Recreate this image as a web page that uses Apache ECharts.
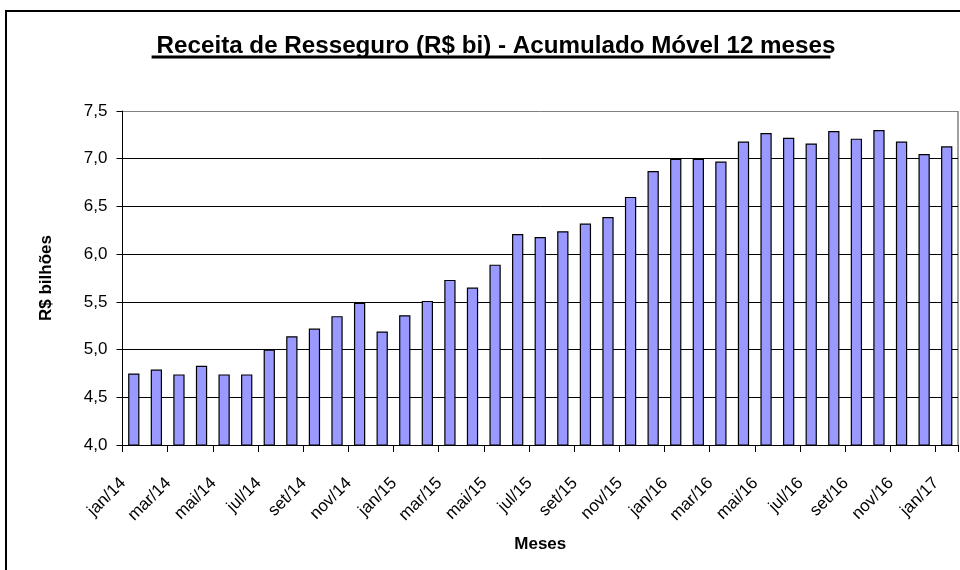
<!DOCTYPE html>
<html>
<head>
<meta charset="utf-8">
<script src="https://cdn.jsdelivr.net/npm/echarts@6/dist/echarts.min.js"></script>
<style>
html,body{margin:0;padding:0;background:#fff;}
#chart{width:960px;height:570px;}
</style>
</head>
<body>
<div id="chart"></div>
<script>
var titleText = 'Receita de Resseguro (R$ bi) - Acumulado Móvel 12 meses';
var yAxisName = 'R$ bilhões';
var xAxisName = 'Meses';
var categories = [
  'jan/14','fev/14','mar/14','abr/14','mai/14','jun/14','jul/14','ago/14','set/14','out/14','nov/14','dez/14',
  'jan/15','fev/15','mar/15','abr/15','mai/15','jun/15','jul/15','ago/15','set/15','out/15','nov/15','dez/15',
  'jan/16','fev/16','mar/16','abr/16','mai/16','jun/16','jul/16','ago/16','set/16','out/16','nov/16','dez/16',
  'jan/17'
];
var receita = [
  4.75, 4.79, 4.74, 4.83, 4.74, 4.74, 5.00, 5.14, 5.22, 5.35, 5.49, 5.19,
  5.36, 5.51, 5.73, 5.65, 5.89, 6.21, 6.18, 6.24, 6.32, 6.39, 6.60, 6.87,
  7.00, 7.00, 6.97, 7.18, 7.27, 7.22, 7.16, 7.29, 7.21, 7.30, 7.18, 7.05,
  7.13
];
var yMin = 4.0, yMax = 7.5, yStep = 0.5;

var chart = echarts.init(document.getElementById('chart'));

var titleSize = 24.2;
var cv = document.createElement('canvas').getContext('2d');
cv.font = 'bold ' + titleSize + 'px Arial';
var tw = cv.measureText(titleText).width;
var titleCx = 491;

var nTicks = Math.round((yMax - yMin) / yStep) + 1;
var splitColors = [];
for (var i = 0; i < nTicks; i++) splitColors.push(i === nTicks - 1 ? '#808080' : '#000000');

chart.setOption({
  animation: false,
  backgroundColor: '#ffffff',
  title: {
    text: titleText,
    left: titleCx,
    top: 29,
    textAlign: 'center',
    textStyle: { fontFamily: 'Arial', fontWeight: 'bold', fontSize: titleSize, color: '#000' }
  },
  graphic: [
    { type: 'rect', shape: { x: 6, y: 11, width: 1000, height: 600 },
      style: { fill: 'none', stroke: '#000', lineWidth: 2 }, silent: true },
    { type: 'line', shape: { x1: titleCx - tw / 2, y1: 57, x2: titleCx + tw / 2, y2: 57 },
      style: { stroke: '#000', lineWidth: 3 }, silent: true },
    { type: 'line', shape: { x1: 958, y1: 111, x2: 958, y2: 445 },
      style: { stroke: '#808080', lineWidth: 1.5 }, silent: true }
  ],
  grid: { left: 122.5, right: 2, top: 111, bottom: 125, containLabel: false },
  xAxis: {
    type: 'category',
    data: categories,
    boundaryGap: true,
    name: xAxisName,
    nameLocation: 'middle',
    nameGap: 91,
    nameTextStyle: { fontFamily: 'Arial', fontWeight: 'bold', fontSize: 17, color: '#000' },
    axisLine: { lineStyle: { color: '#000', width: 1 } },
    axisTick: { show: true, interval: 1, length: 7, alignWithLabel: false, lineStyle: { color: '#000' } },
    axisLabel: {
      interval: 1, rotate: 45, margin: 25, padding: [0, 15, 0, 0],
      fontFamily: 'Arial', fontSize: 17, color: '#000'
    },
    splitLine: { show: false }
  },
  yAxis: {
    type: 'value',
    min: yMin, max: yMax, interval: yStep,
    name: yAxisName,
    nameLocation: 'middle',
    nameRotate: 90,
    nameGap: 68,
    nameTextStyle: { fontFamily: 'Arial', fontWeight: 'bold', fontSize: 17, color: '#000' },
    axisLine: { show: true, lineStyle: { color: '#000', width: 1 } },
    axisTick: { show: true, length: 6, lineStyle: { color: '#000' } },
    axisLabel: {
      margin: 15, fontFamily: 'Arial', fontSize: 17, color: '#000',
      formatter: function (v) { return v.toFixed(1).replace('.', ','); }
    },
    splitLine: { show: true, lineStyle: { color: splitColors, width: 1 } }
  },
  series: [{
    type: 'bar',
    data: receita,
    barWidth: '50%',
    itemStyle: { color: '#9999FF', borderColor: '#000', borderWidth: 1.2 }
  }]
});
</script>
</body>
</html>
